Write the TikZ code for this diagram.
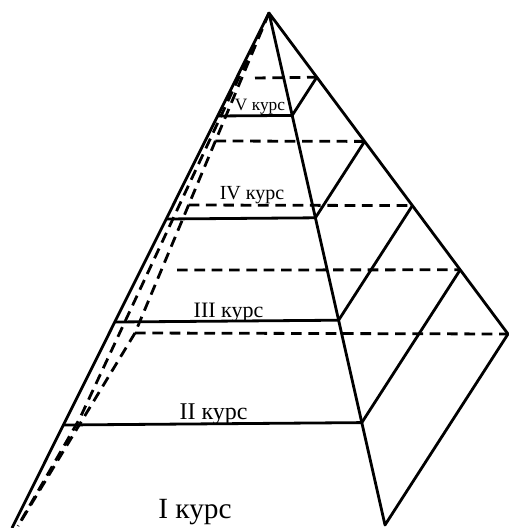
\documentclass[tikz,border=0pt]{standalone}
\usepackage{fontspec}
\setmainfont{Liberation Serif}
\usetikzlibrary{calc}
\begin{document}
\begin{tikzpicture}[x=0.75pt,y=-0.75pt,line width=2.1pt,line join=round,
    hid/.style={dash pattern=on 8pt off 5pt},
    lbl/.style={anchor=base,inner sep=0pt}]
  \useasboundingbox (0,0) rectangle (509,528);
  % corners of the pyramid
  \coordinate (A) at (269,13);
  \coordinate (L) at (12,528);
  \coordinate (R) at (385,525);
  \coordinate (B) at (508,334);
  \coordinate (D) at (135,333);
  % visible edges
  \draw (L) -- (A) -- (R) -- (B) -- (A);
  \draw ($(A)!0.2!(L)$) -- ($(A)!0.2!(R)$) -- ($(A)!0.2!(B)$);
  \draw ($(A)!0.4!(L)$) -- ($(A)!0.4!(R)$) -- ($(A)!0.4!(B)$);
  \draw ($(A)!0.6!(L)$) -- ($(A)!0.6!(R)$) -- ($(A)!0.6!(B)$);
  \draw ($(A)!0.8!(L)$) -- ($(A)!0.8!(R)$) -- ($(A)!0.8!(B)$);
  % hidden edges
  \draw[hid] (A) -- (D) -- (18,526);
  \draw[hid] (A) -- (80,418) -- (18,526);
  \draw[hid] (D) -- (B);
  \draw[hid] (255,78) -- ($(A)!0.2!(B)$);
  \draw[hid] ($(A)!0.4!(D)$) -- ($(A)!0.4!(B)$);
  \draw[hid] ($(A)!0.6!(D)$) -- ($(A)!0.6!(B)$);
  \draw[hid] (177,270) -- ($(A)!0.8!(B)$);
  % years
  \node[lbl,font=\fontsize{13}{13}\selectfont] (k5) at (260,110) {V курс};
  \node[lbl,font=\fontsize{15}{15}\selectfont] (k4) at (252,199) {IV курс};
  \node[lbl,font=\fontsize{16.5}{16.5}\selectfont] (k3) at (228.5,317) {III курс};
  \node[lbl,font=\fontsize{18}{18}\selectfont] (k2) at (213.5,419) {II курс};
  \node[lbl,font=\fontsize{22}{22}\selectfont] (k1) at (195,518) {I курс};
\end{tikzpicture}
\end{document}
